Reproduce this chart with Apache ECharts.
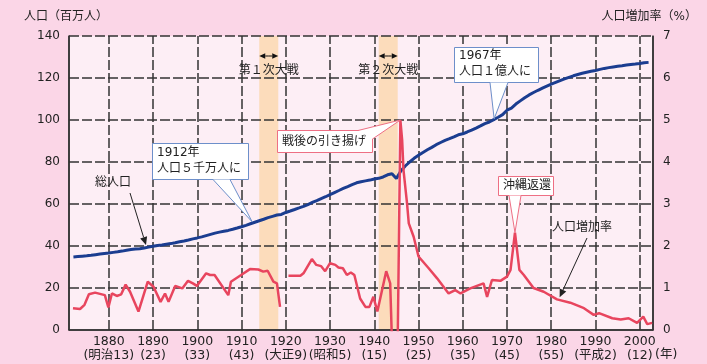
<!DOCTYPE html>
<html><head><meta charset="utf-8">
<script src="https://cdn.jsdelivr.net/npm/echarts@6/dist/echarts.min.js"></script>
<style>html,body{margin:0;padding:0;background:#fbd6e7;}#c{width:707px;height:364px;}</style>
</head><body><div id="c"></div>
<script>
// ---- data ----
const popStartYear = 1872;
const popValues = [
  34.81,34.98,35.15,35.32,35.56,35.87,36.17,36.46,
  36.65,36.97,37.26,37.57,37.96,38.31,38.54,38.70,39.03,39.47,
  39.90,40.25,40.51,40.86,41.14,41.56,41.99,42.40,42.89,43.40,
  43.85,44.36,44.96,45.55,46.14,46.62,47.04,47.42,47.97,48.55,
  49.18,49.85,50.58,51.31,52.04,52.75,53.50,54.13,54.74,55.03,
  55.96,56.67,57.39,58.12,58.88,59.74,60.74,61.66,62.60,63.46,
  64.45,65.46,66.43,67.43,68.31,69.25,70.11,70.63,71.01,71.38,
  71.93,72.22,72.88,73.90,74.43,72.15,75.75,78.10,80.00,81.77,
  83.20,84.54,85.81,86.98,88.24,89.28,90.26,91.09,92.01,92.97,
  93.42,94.29,95.18,96.16,97.18,98.28,99.05,100.20,101.33,102.54,
  104.67,105.70,107.60,109.10,110.57,111.94,113.09,114.15,115.19,116.16,
  117.06,117.90,118.73,119.54,120.31,121.05,121.66,122.24,122.75,123.21,
  123.61,124.10,124.57,124.94,125.27,125.57,125.86,126.17,126.47,126.67,
  126.93,127.29,127.44
];
const rateYears = [1871.9,1873.5,1874.5,1875.5,1876.9,1879.1,1879.9,1880.7,1881.8,1882.8,1883.8,1884.8,1886.7,1888.8,1890.1,1891.7,1892.7,1893.5,1895.0,1896.6,1897.9,1899.0,1899.9,1902.0,1902.9,1903.9,1907.0,1907.6,1909.9,1911.9,1913.8,1914.9,1915.9,1917.2,1918.0,1918.7,1919.5,1920.6,1923.3,1924.0,1925.9,1926.9,1928.0,1928.9,1930.0,1931.2,1931.9,1932.9,1933.8,1934.7,1935.5,1936.8,1938.0,1938.9,1939.8,1940.7,1942.7,1943.6,1944.5,1945.1,1945.9,1946.3,1946.6,1947.4,1947.8,1948.9,1950.0,1952.3,1954.2,1956.8,1958.3,1959.5,1961.7,1964.7,1965.5,1966.6,1968.5,1970.0,1970.8,1971.8,1972.8,1973.8,1976.0,1978.3,1981.3,1984.3,1987.4,1989.6,1990.8,1993.8,1995.7,1997.5,1999.4,2000.8,2001.7,2002.8];
const rateValues = [0.52,0.50,0.60,0.85,0.89,0.83,0.54,0.87,0.81,0.85,1.08,0.91,0.44,1.15,1.03,0.67,0.87,0.67,1.05,0.99,1.17,1.11,1.05,1.35,1.31,1.31,0.83,1.15,1.31,1.45,1.44,1.39,1.41,1.15,1.11,0.55,null,1.29,1.29,1.35,1.69,1.55,1.52,1.40,1.59,1.55,1.49,1.47,1.31,1.37,1.31,0.75,0.55,0.55,0.79,0.44,1.40,1.11,-2,-2,5.0,4.52,3.81,3.02,2.54,2.22,1.75,1.47,1.23,0.87,0.95,0.87,0.99,1.11,0.79,1.19,1.17,1.27,1.43,2.32,1.43,1.31,1.00,0.91,0.73,0.65,0.52,0.36,0.40,0.28,0.25,0.28,0.17,0.32,0.14,0.17];
const tickYears = [1880,1890,1900,1910,1920,1930,1940,1950,1960,1970,1980,1990,2000];
const eraLabels = ['(明治13)','(23)','(33)','(43)','(大正9)','(昭和5)','(15)','(25)','(35)','(45)','(55)','(平成2)','(12)'];
const popTicks = [20,40,60,80,100,120,140];
const warPeriods = [[1914.0,1918.3],[1941.0,1945.3]];
const warNames = ['第１次大戦','第２次大戦'];
const xRange = [1871,2003];

const FONT = '"DejaVu Sans","Noto Sans CJK JP",sans-serif';
const popData = popValues.map((v,i)=>[popStartYear+i, v]);
const rateData = rateYears.map((y,i)=>[y, rateValues[i]]);

const chart = echarts.init(document.getElementById('c'), null, {renderer:'canvas'});
const GRID_COLOR = '#333333';
const gridStyle = {color:GRID_COLOR, width:1.5, type:[10,3], opacity:1};
const borderStyle = {color:GRID_COLOR, width:1.5, type:'solid', opacity:1};
chart.setOption({
  backgroundColor:'#fbd6e7',
  animation:false,
  textStyle:{fontFamily:FONT},
  grid:{left:69,right:54,top:36,bottom:34,show:false},
  xAxis:{type:'value',min:xRange[0],max:xRange[1],splitNumber:13,z:5,
    axisLine:{show:true,lineStyle:{color:'#333',width:1.5}},
    axisTick:{show:false},
    axisLabel:{showMinLabel:false,showMaxLabel:false,color:'#222',fontSize:12.5,lineHeight:14,margin:5,fontFamily:FONT,
      formatter:v=>{const i=tickYears.indexOf(Math.round(v)); return i<0?'':v+'\n'+eraLabels[i];}},
    splitLine:{show:false}},
  yAxis:[
    {type:'value',min:0,max:140,interval:20,z:5,
      axisLine:{show:true,onZero:false,lineStyle:{color:'#333',width:1.5}},
      axisTick:{show:false},
      axisLabel:{color:'#222',fontSize:12,margin:9,fontFamily:FONT},
      splitLine:{show:false}},
    {type:'value',min:0,max:7,interval:1,position:'right',z:5,
      axisLine:{show:true,onZero:false,lineStyle:{color:'#333',width:1.5}},
      axisTick:{show:false},
      axisLabel:{color:'#222',fontSize:12,margin:10,fontFamily:FONT},
      splitLine:{show:false}}
  ],
  series:[
    {type:'line',data:[],silent:true,z:1,
      markArea:{silent:true,itemStyle:{color:'#fcdcbb',opacity:1},
        data:warPeriods.map(p=>[{xAxis:p[0]},{xAxis:p[1]}])}},
    {type:'line',data:[],silent:true,z:2,color:GRID_COLOR,itemStyle:{color:GRID_COLOR},lineStyle:{color:GRID_COLOR},
      markLine:{silent:true,symbol:['none','none'],label:{show:false},lineStyle:gridStyle,
        emphasis:{disabled:true},
        data:tickYears.map(y=>({xAxis:y,lineStyle:gridStyle})).concat(popTicks.map(v=>({yAxis:v,lineStyle:gridStyle})))}},
    {type:'line',data:[],silent:true,z:2,color:GRID_COLOR,itemStyle:{color:GRID_COLOR},lineStyle:{color:GRID_COLOR},
      markLine:{silent:true,symbol:['none','none'],label:{show:false},lineStyle:borderStyle,
        emphasis:{disabled:true},
        data:[{xAxis:xRange[0],lineStyle:borderStyle},{xAxis:xRange[1],lineStyle:borderStyle},{yAxis:0,lineStyle:borderStyle}]}},
    {type:'line',data:popData,yAxisIndex:0,symbol:'none',z:10,
      lineStyle:{color:'#1b3d90',width:3},itemStyle:{color:'#1b3d90'}},
    {type:'line',data:rateData,yAxisIndex:1,symbol:'none',z:11,connectNulls:false,
      lineStyle:{color:'#e8455e',width:2.5},itemStyle:{color:'#e8455e'}}
  ]
});

// ---- annotations ----
const POP=3, RATE=4;
const g = [];
const P = (si,pt)=>chart.convertToPixel({seriesIndex:si},pt);
const c0=P(POP,[xRange[0],140]), c1=P(POP,[xRange[1],0]);
g.push({type:'rect',z:-10,silent:true,shape:{x:c0[0],y:c0[1],width:c1[0]-c0[0],height:c1[1]-c0[1]},style:{fill:'#fdeef5'}});
function txt(t,x,y,opt){ g.push(Object.assign({type:'text',z:100,style:Object.assign({text:t,x:x,y:y,fill:'#222',font:'12px '+FONT,textAlign:'left',textVerticalAlign:'middle'},opt||{})})); }
function arrow(x1,y1,x2,y2,size,color){
  const dx=x2-x1,dy=y2-y1,L=Math.hypot(dx,dy),ux=dx/L,uy=dy/L,px=-uy,py=ux;
  const bx=x2-ux*size,by=y2-uy*size;
  g.push({type:'polyline',z:100,shape:{points:[[x1,y1],[bx,by]]},style:{stroke:color,lineWidth:1,fill:null}});
  g.push({type:'polygon',z:100,shape:{points:[[x2,y2],[bx+px*size*0.45,by+py*size*0.45],[bx-px*size*0.45,by-py*size*0.45]]},style:{fill:color}});
}
function callout(box,tip,b1,b2,color,lines,lineY){
  g.push({type:'rect',z:100,shape:{x:box[0]+0.5,y:box[1]+0.5,width:box[2],height:box[3]},style:{fill:'#fff',stroke:color,lineWidth:1}});
  g.push({type:'polygon',z:101,shape:{points:[b1,tip,b2]},style:{fill:'#fff'}});
  g.push({type:'polyline',z:102,shape:{points:[b1,tip,b2]},style:{stroke:color,lineWidth:1,fill:null}});
  lines.forEach((t,i)=>txt(t,box[0]+5,lineY[i],{z:103}));
}
txt('人口（百万人）',24,17);
txt('人口増加率（%）',697,17,{textAlign:'right'});
txt('(年)',655,355,{font:'12.5px '+FONT});
warPeriods.forEach((p,i)=>{
  const a=P(POP,[p[0],140]), b=P(POP,[p[1],140]);
  const cx=(a[0]+b[0])/2;
  txt(warNames[i],cx,71,{textAlign:'center'});
  arrow(cx,56,a[0],56,6,'#111');
  arrow(cx,56,b[0],56,6,'#111');
});
const t1912=P(POP,[1912.4,51.5]);
callout([152,143,96,36],t1912,[213,179.5],[230,179.5],'#6d8fca',['1912年','人口５千万人に'],[153,169]);
const t1967=P(POP,[1967.1,100.6]);
callout([454,47,84,35],t1967,[490,82.5],[508,82.5],'#6d8fca',['1967年','人口１億人に'],[56,72]);
const tWar=P(RATE,[1945.9,5.0]);
callout([277,130,95,22],tWar,[358,130.5],[372.5,139],'#ee6f84',['戦後の引き揚げ'],[141.5]);
const tOki=P(RATE,[1971.8,2.32]);
callout([498,176,55,19],tOki,[509,195.5],[521,195.5],'#ee6f84',['沖縄返還'],[186]);
txt('総人口',95,183);
const tPop=P(POP,[1888.4,40]);
arrow(130,193,tPop[0],tPop[1]-1,8,'#222');
txt('人口増加率',552,228);
const tRate=P(RATE,[1981.9,0.78]);
arrow(587,238,tRate[0],tRate[1],8,'#222');

chart.setOption({graphic:{elements:g}});
</script></body></html>
